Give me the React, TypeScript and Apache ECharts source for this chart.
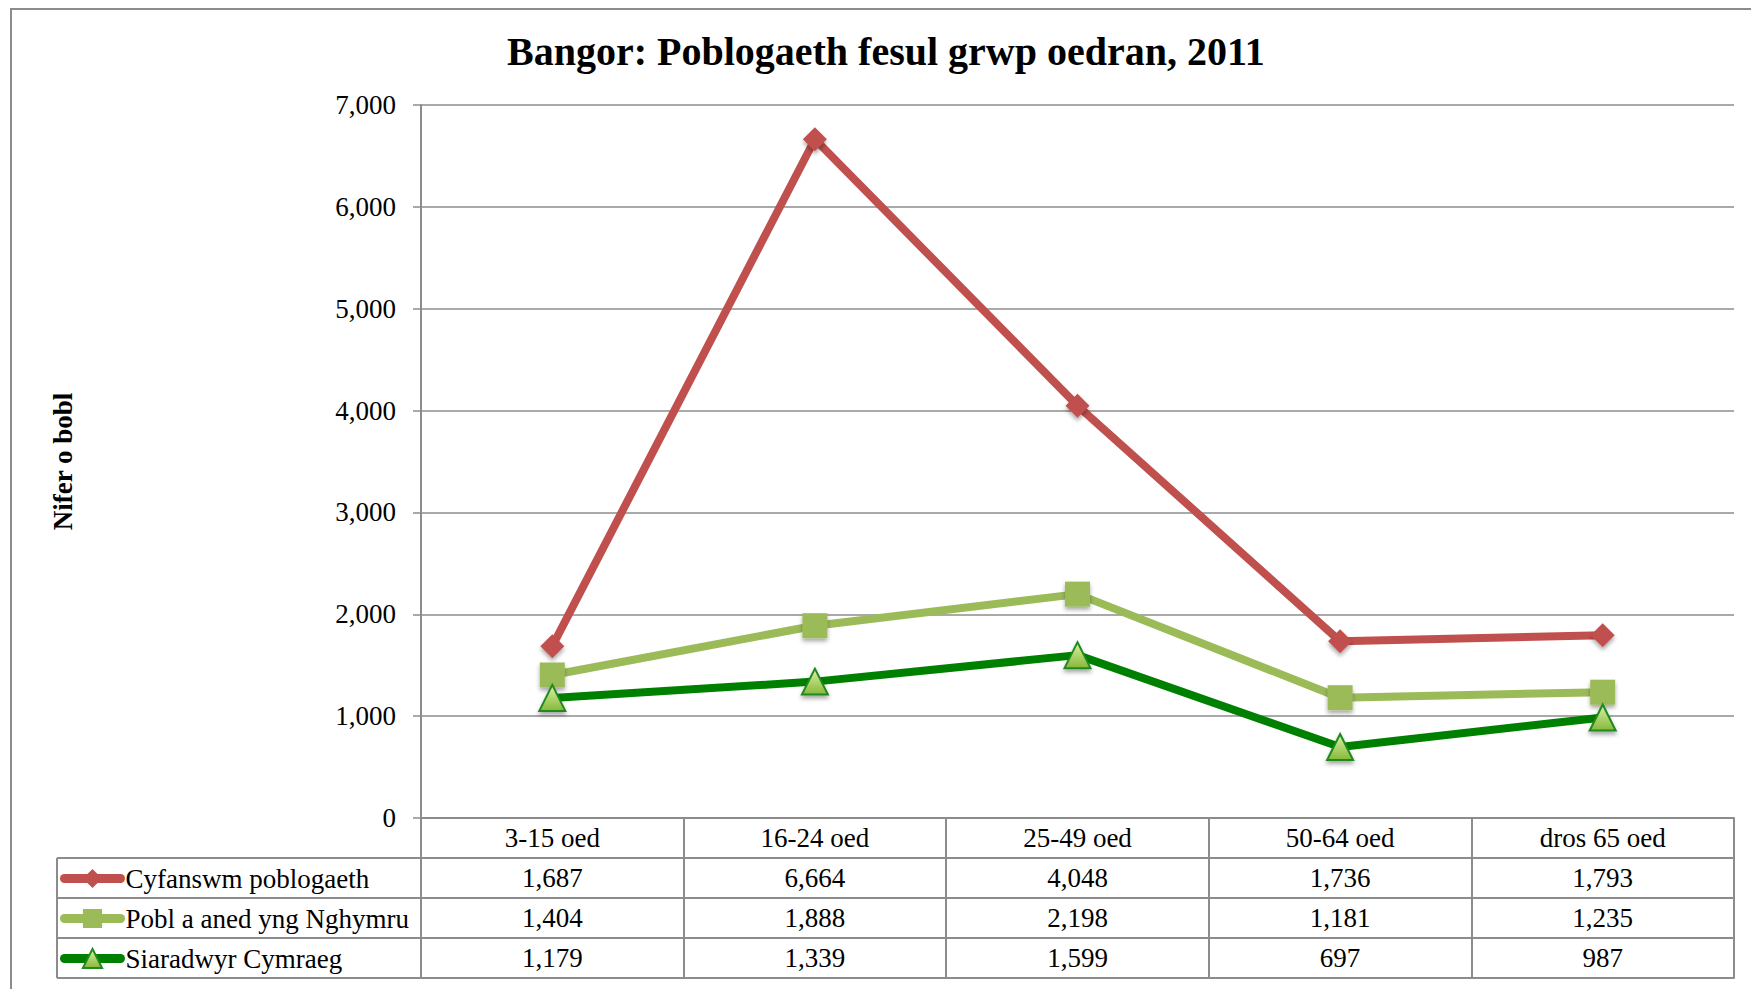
import React, { useEffect, useRef } from "react";
import * as echarts from "echarts";

const categories = ["3-15 oed", "16-24 oed", "25-49 oed", "50-64 oed", "dros 65 oed"];
const seriesNames = ["Cyfanswm poblogaeth", "Pobl a aned yng Nghymru", "Siaradwyr Cymraeg"];
const cyfanswm = [1687, 6664, 4048, 1736, 1793];
const poblAned = [1404, 1888, 2198, 1181, 1235];
const siaradwyr = [1179, 1339, 1599, 697, 987];
const yMin = 0;
const yMax = 7000;
const yInterval = 1000;

const FONT = "Liberation Serif";
const GRID = "#8c8c8c";
const fmt = (v: number) => v.toLocaleString("en-US");

export default function App() {
  const ref = useRef<HTMLDivElement>(null);
  useEffect(() => {
    if (!ref.current) return;
    const chart = echarts.init(ref.current, null, { renderer: "svg" });
    const rows = [cyfanswm, poblAned, siaradwyr];
    const H = 989;
    const gridLeft = 421;
    const gridRight = 17;
    const gridTop = 105;
    const gridBottom = 171;
    const rowH = 40;
    const axisY = H - gridBottom;

    const baseX = {
      type: "category",
      data: categories,
      position: "bottom",
      boundaryGap: true,
      axisLine: { show: true, lineStyle: { color: GRID, width: 2 } },
      axisTick: { show: true, inside: false, length: rowH, alignWithLabel: false, lineStyle: { color: GRID, width: 2 } },
      splitLine: { show: false },
    };

    const xAxes: any[] = [
      {
        ...baseX,
        offset: 0,
        axisLabel: {
          margin: rowH / 2,
          verticalAlign: "middle",
          fontFamily: FONT,
          fontSize: 27,
          color: "#000",
          interval: 0,
        },
      },
      ...rows.map((r, i) => ({
        ...baseX,
        offset: rowH * (i + 1),
        axisLabel: {
          margin: rowH / 2,
          verticalAlign: "middle",
          fontFamily: FONT,
          fontSize: 27,
          color: "#000",
          interval: 0,
          formatter: (_v: string, idx: number) => fmt(r[idx]),
        },
      })),
      {
        ...baseX,
        offset: rowH * 4,
        axisTick: { show: false },
        axisLabel: { show: false },
      },
    ];

    const graphic: any[] = [
      {
        type: "rect",
        shape: { x: 11, y: 9, width: 1800, height: 1100 },
        style: { fill: "none", stroke: GRID, lineWidth: 2 },
        silent: true,
      },
    ];
    const legendLeft = 57;
    for (let k = 1; k <= 4; k++) {
      graphic.push({
        type: "line",
        shape: { x1: legendLeft, y1: axisY + rowH * k, x2: gridLeft, y2: axisY + rowH * k },
        style: { stroke: GRID, lineWidth: 2 },
        silent: true,
      });
    }
    graphic.push({
      type: "line",
      shape: { x1: legendLeft, y1: axisY + rowH, x2: legendLeft, y2: axisY + rowH * 4 },
      style: { stroke: GRID, lineWidth: 2 },
      silent: true,
    });

    const legends = seriesNames.map((n, i) => ({
      orient: "horizontal",
      left: 60,
      top: axisY + rowH * (i + 1) + 7,
      itemWidth: 56,
      itemHeight: 24,
      padding: 0,
      selectedMode: false,
      textStyle: { fontFamily: FONT, fontSize: 27, color: "#000", lineHeight: 26 },
      lineStyle: { width: 9, cap: "round" },
      data: [n],
    }));

    const shadow = { shadowBlur: 4, shadowColor: "rgba(0,0,0,0.35)", shadowOffsetY: 3 };

    chart.setOption({
      animation: false,
      backgroundColor: "#fff",
      textStyle: { fontFamily: FONT },
      title: {
        text: "Bangor: Poblogaeth fesul grwp oedran, 2011",
        left: 502,
        top: 26,
        textStyle: { fontFamily: FONT, fontSize: 40, fontWeight: "bold", color: "#000" },
      },
      grid: { left: gridLeft, right: gridRight, top: gridTop, bottom: gridBottom, containLabel: false },
      legend: legends,
      xAxis: xAxes,
      yAxis: {
        type: "value",
        min: yMin,
        max: yMax,
        interval: yInterval,
        name: "Nifer o bobl",
        nameLocation: "middle",
        nameGap: 345,
        nameTextStyle: { fontFamily: FONT, fontSize: 27, fontWeight: "bold", color: "#000" },
        axisLine: { show: true, lineStyle: { color: GRID, width: 2 } },
        axisTick: { show: true, length: 8, lineStyle: { color: GRID, width: 1.5 } },
        splitLine: { show: true, lineStyle: { color: GRID, width: 1.5 } },
        axisLabel: {
          margin: 25,
          fontFamily: FONT,
          fontSize: 27,
          color: "#000",
          formatter: (v: number) => fmt(v),
        },
      },
      graphic,
      series: [
        {
          name: seriesNames[0],
          type: "line",
          data: cyfanswm,
          symbol: "diamond",
          symbolSize: 24,
          lineStyle: { color: "#C0504D", width: 8 },
          itemStyle: { color: "#C0504D", ...shadow },
          emphasis: { disabled: true },
        },
        {
          name: seriesNames[1],
          type: "line",
          data: poblAned,
          symbol: "rect",
          symbolSize: 25,
          lineStyle: { color: "#9BBB59", width: 8 },
          itemStyle: { color: "#9BBB59", ...shadow },
          emphasis: { disabled: true },
        },
        {
          name: seriesNames[2],
          type: "line",
          data: siaradwyr,
          symbol: "triangle",
          symbolSize: 26,
          lineStyle: { color: "#008000", width: 8 },
          itemStyle: {
            color: new echarts.graphic.LinearGradient(0, 0, 0, 1, [
              { offset: 0, color: "#dcf0a4" },
              { offset: 1, color: "#86b83a" },
            ]),
            borderColor: "#1f8a1f",
            borderWidth: 2,
            ...shadow,
          },
          emphasis: { disabled: true },
        },
      ],
    });
    return () => chart.dispose();
  }, []);
  return (
    <div
      ref={ref}
      style={{ position: "absolute", left: 0, top: 0, width: 1751, height: 989 }}
    />
  );
}
